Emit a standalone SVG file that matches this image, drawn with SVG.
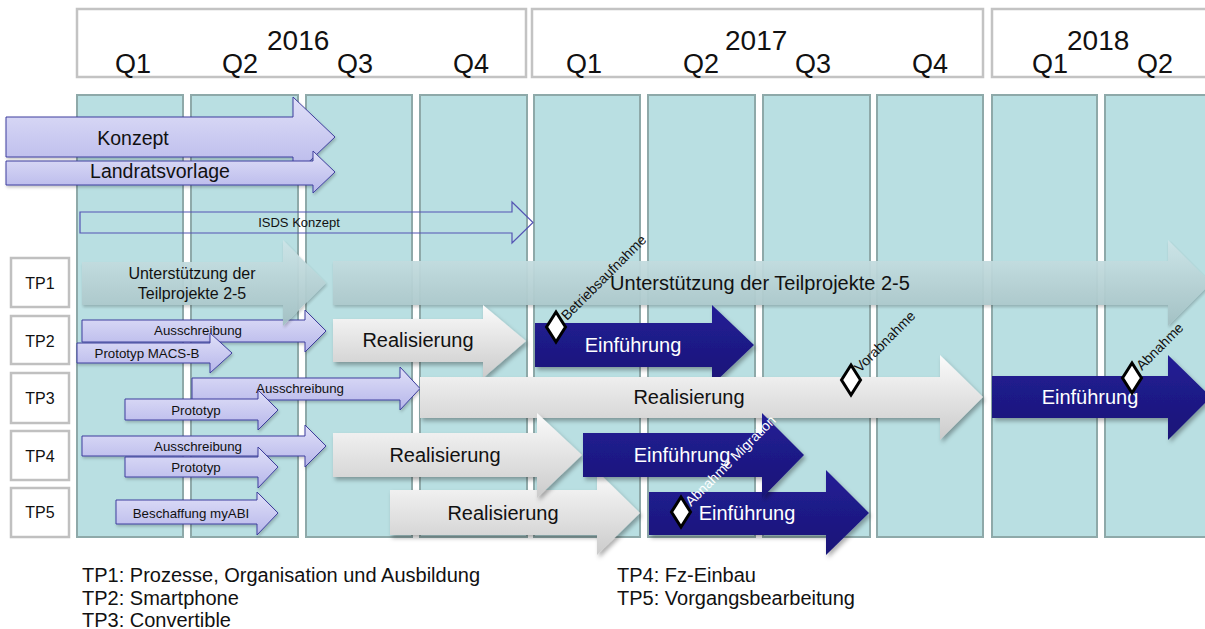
<svg xmlns="http://www.w3.org/2000/svg" width="1205" height="629" viewBox="0 0 1205 629">
  <defs>
    <linearGradient id="gPurple" x1="0" y1="0" x2="0" y2="1">
      <stop offset="0" stop-color="#e0e0f8"/>
      <stop offset="1" stop-color="#b6b6ea"/>
    </linearGradient>
    <linearGradient id="gGray" x1="0" y1="0" x2="0" y2="1">
      <stop offset="0" stop-color="#fbfbfb"/>
      <stop offset="1" stop-color="#cbcbcb"/>
    </linearGradient>
    <linearGradient id="gBlue" x1="0" y1="0" x2="0" y2="1">
      <stop offset="0" stop-color="#231e96"/>
      <stop offset="1" stop-color="#191577"/>
    </linearGradient>
    <linearGradient id="gTeal" x1="0" y1="0" x2="0" y2="1">
      <stop offset="0" stop-color="#cde5e8"/>
      <stop offset="1" stop-color="#a3c0c3"/>
    </linearGradient>
    <filter id="shadow" x="-10%" y="-20%" width="120%" height="150%">
      <feDropShadow dx="2" dy="3" stdDeviation="2" flood-color="#000" flood-opacity="0.32"/>
    </filter>
    <filter id="shadowSoft" x="-10%" y="-20%" width="120%" height="150%">
      <feDropShadow dx="1" dy="2" stdDeviation="1.5" flood-color="#000" flood-opacity="0.22"/>
    </filter>
  </defs>
  <style>
    text { font-family: "Liberation Sans", Arial, sans-serif; fill: #111; }
    .hdr { fill: #fff; stroke: #c3c3c3; stroke-width: 2.5; }
    .col { fill: #b9dfe2; stroke: #8ea9a9; stroke-width: 2; }
    .q { font-size: 27px; }
    .yr { font-size: 28px; }
    .tpbox { fill: #fff; stroke: #c0c0c0; stroke-width: 2.5; }
    .tp { font-size: 16px; text-anchor: middle; }
    .pur { fill: url(#gPurple); stroke: #3e3e9e; stroke-width: 1; filter: url(#shadowSoft); }
    .gry { fill: url(#gGray); filter: url(#shadow); }
    .blu { fill: url(#gBlue); filter: url(#shadow); }
    .tea { fill: url(#gTeal); filter: url(#shadowSoft); opacity: 0.95; }
    .out { fill: none; stroke: #5454b4; stroke-width: 1.2; }
    .small { font-size: 13.3px; text-anchor: middle; }
    .big { font-size: 20px; text-anchor: middle; }
    .white { fill: #fff; }
    .ms { fill: #fff; stroke: #000; stroke-width: 3; stroke-linejoin: miter; }
    .msl { font-size: 14px; }
    .leg { font-size: 20px; }
  </style>

  <!-- quarter header -->
  <g id="header">
    <rect class="hdr" x="77" y="9" width="449" height="68"/>
    <rect class="hdr" x="532" y="9" width="451" height="68"/>
    <rect class="hdr" x="992" y="9" width="225" height="68"/>
    <text class="q" x="115" y="73">Q1</text>
    <text class="q" x="222" y="73">Q2</text>
    <text class="yr" x="267" y="50">2016</text>
    <text class="q" x="337" y="73">Q3</text>
    <text class="q" x="453" y="73">Q4</text>
    <text class="q" x="566" y="73">Q1</text>
    <text class="q" x="683" y="73">Q2</text>
    <text class="yr" x="725" y="50">2017</text>
    <text class="q" x="795" y="73">Q3</text>
    <text class="q" x="912" y="73">Q4</text>
    <text class="q" x="1032" y="73">Q1</text>
    <text class="yr" x="1067" y="50">2018</text>
    <text class="q" x="1137" y="73">Q2</text>
  </g>

  <!-- quarter columns -->
  <g id="columns">
    <rect class="col" x="77" y="95" width="106" height="442"/>
    <rect class="col" x="191" y="95" width="107" height="442"/>
    <rect class="col" x="306" y="95" width="106" height="442"/>
    <rect class="col" x="420" y="95" width="107" height="442"/>
    <rect class="col" x="534" y="95" width="106" height="442"/>
    <rect class="col" x="648" y="95" width="107" height="442"/>
    <rect class="col" x="763" y="95" width="107" height="442"/>
    <rect class="col" x="877" y="95" width="106" height="442"/>
    <rect class="col" x="992" y="95" width="105" height="442"/>
    <rect class="col" x="1105" y="95" width="110" height="442"/>
  </g>

  <!-- sub-project labels -->
  <g id="tp1"><rect class="tpbox" x="11" y="258" width="58" height="49"/><text class="tp" x="40" y="289">TP1</text></g>
  <g id="tp2"><rect class="tpbox" x="11" y="316" width="58" height="48"/><text class="tp" x="40" y="347">TP2</text></g>
  <g id="tp3"><rect class="tpbox" x="11" y="373" width="58" height="50"/><text class="tp" x="40" y="404">TP3</text></g>
  <g id="tp4"><rect class="tpbox" x="11" y="431" width="58" height="49"/><text class="tp" x="40" y="462">TP4</text></g>
  <g id="tp5"><rect class="tpbox" x="11" y="488" width="58" height="49"/><text class="tp" x="40" y="518">TP5</text></g>

  <!-- overall phases -->
  <g id="konzept">
    <path class="pur" d="M6,117 H293 V97 L335,137 L293,177 V157 H6 Z"/>
    <text x="133" y="145" font-size="19.5" text-anchor="middle">Konzept</text>
  </g>
  <g id="landratsvorlage">
    <path class="pur" d="M6,161 H313 V151 L335,172 L313,193 V185 H6 Z"/>
    <text x="160" y="178" font-size="19.5" text-anchor="middle">Landratsvorlage</text>
  </g>
  <g id="isds-konzept">
    <path class="out" d="M80,212 H512 V202 L533,222.5 L512,243 V233 H80 Z"/>
    <text x="299" y="227" font-size="13" text-anchor="middle">ISDS Konzept</text>
  </g>

  <!-- TP2 preparation -->
  <g id="tp2-ausschreibung">
    <path class="pur" d="M82,320 H305 V310 L326,331 L305,352 V342 H82 Z"/>
    <text class="small" x="198" y="335">Ausschreibung</text>
  </g>
  <g id="tp2-prototyp">
    <path class="pur" d="M77,343 H210 V333 L232,353 L210,373 V363 H77 Z"/>
    <text class="small" x="147" y="358">Prototyp MACS-B</text>
  </g>

  <!-- TP1 support -->
  <g id="tp1-support-a">
    <path class="tea" d="M82,262 H283 V240 L326,283 L283,326 V305 H82 Z"/>
    <text x="192" y="279" font-size="16" text-anchor="middle">Unterstützung der</text>
    <text x="192" y="299" font-size="16" text-anchor="middle">Teilprojekte 2-5</text>
  </g>
  <g id="tp1-support-b">
    <path class="tea" d="M333,261 H1168 V240 L1211,283 L1168,326 V305 H333 Z"/>
    <text x="760" y="290" font-size="20" text-anchor="middle">Unterstützung der Teilprojekte 2-5</text>
  </g>

  <!-- TP2 -->
  <g id="tp2-realisierung">
    <path class="gry" d="M333,319 H483 V305 L526,341 L483,378 V362 H333 Z"/>
    <text class="big" x="418" y="347">Realisierung</text>
  </g>
  <g id="tp2-einfuehrung">
    <path class="blu" d="M535,323 H712 V305 L754,345 L712,385 V367 H535 Z"/>
    <text class="big white" x="633" y="352">Einführung</text>
  </g>

  <!-- TP3 -->
  <g id="tp3-ausschreibung">
    <path class="pur" d="M192,378 H400 V367 L420,388.5 L400,410 V400 H192 Z"/>
    <text class="small" x="300" y="393">Ausschreibung</text>
  </g>
  <g id="tp3-prototyp">
    <path class="pur" d="M125,399 H258 V390 L278,410 L258,430 V420 H125 Z"/>
    <text class="small" x="196" y="415">Prototyp</text>
  </g>
  <g id="tp3-realisierung">
    <path class="gry" d="M420,377 H940 V355 L983,397 L940,440 V418 H420 Z"/>
    <text class="big" x="689" y="404">Realisierung</text>
  </g>
  <g id="tp3-einfuehrung">
    <path class="blu" d="M992,376 H1168 V355 L1211,397 L1168,440 V418 H992 Z"/>
    <text class="big white" x="1090" y="404">Einführung</text>
  </g>

  <!-- TP5 -->
  <g id="tp5-beschaffung">
    <path class="pur" d="M116,500 H257 V492 L278,513 L257,535 V524 H116 Z"/>
    <text class="small" x="191" y="518">Beschaffung myABI</text>
  </g>
  <g id="tp5-realisierung">
    <path class="gry" d="M390,490 H597 V471 L640,513 L597,555 V535 H390 Z"/>
    <text class="big" x="503" y="520">Realisierung</text>
  </g>
  <g id="tp5-einfuehrung">
    <path class="blu" d="M649,492 H826 V470 L869,513 L826,555 V535 H649 Z"/>
    <text class="big white" x="747" y="520">Einführung</text>
  </g>

  <!-- TP4 -->
  <g id="tp4-ausschreibung">
    <path class="pur" d="M82,436 H305 V425 L326,446 L305,467 V456 H82 Z"/>
    <text class="small" x="198" y="451">Ausschreibung</text>
  </g>
  <g id="tp4-prototyp">
    <path class="pur" d="M125,457 H258 V447 L278,467 L258,488 V477 H125 Z"/>
    <text class="small" x="196" y="472">Prototyp</text>
  </g>
  <g id="tp4-realisierung">
    <path class="gry" d="M333,433 H537 V413 L582,455 L537,498 V477 H333 Z"/>
    <text class="big" x="445" y="462">Realisierung</text>
  </g>
  <g id="tp4-einfuehrung">
    <path class="blu" d="M583,433 H762 V413 L804,455 L762,498 V477 H583 Z"/>
    <text class="big white" x="682" y="462">Einführung</text>
  </g>

  <!-- milestones -->
  <g id="ms-betriebsaufnahme">
    <path class="ms" d="M556,312 L565.5,327 L556,342 L546.5,327 Z"/>
    <text class="msl" transform="translate(567,321) rotate(-45)">Betriebsaufnahme</text>
  </g>
  <g id="ms-vorabnahme">
    <path class="ms" d="M851,365 L860.5,380 L851,395 L841.5,380 Z"/>
    <text class="msl" transform="translate(860,373) rotate(-45)">Vorabnahme</text>
  </g>
  <g id="ms-abnahme">
    <path class="ms" d="M1132,363 L1141.5,378 L1132,393 L1122.5,378 Z"/>
    <text class="msl" transform="translate(1142,371) rotate(-45)">Abnahme</text>
  </g>
  <g id="ms-abnahme-migration">
    <path class="ms" d="M681,497 L690.5,512 L681,527 L671.5,512 Z"/>
    <text class="msl white" transform="translate(691,507) rotate(-45)">Abnahme Migration</text>
  </g>

  <!-- legend -->
  <g id="legend">
    <text class="leg" x="82" y="582">TP1: Prozesse, Organisation und Ausbildung</text>
    <text class="leg" x="82" y="605">TP2: Smartphone</text>
    <text class="leg" x="82" y="627">TP3: Convertible</text>
    <text class="leg" x="617" y="582">TP4: Fz-Einbau</text>
    <text class="leg" x="617" y="605">TP5: Vorgangsbearbeitung</text>
  </g>
</svg>
